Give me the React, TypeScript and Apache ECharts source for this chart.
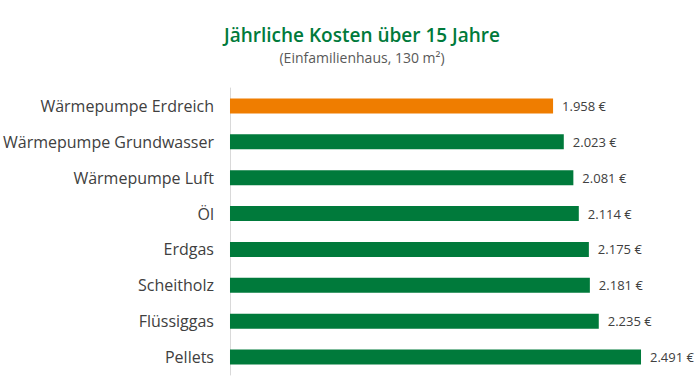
import React, { useEffect, useRef } from "react";
import * as echarts from "echarts";

const categories = [
  "Wärmepumpe Erdreich",
  "Wärmepumpe Grundwasser",
  "Wärmepumpe Luft",
  "Öl",
  "Erdgas",
  "Scheitholz",
  "Flüssiggas",
  "Pellets",
];
const values = [1958, 2023, 2081, 2114, 2175, 2181, 2235, 2491];
const highlight = [true, false, false, false, false, false, false, false];

const GREEN = "#007a3b";
const ORANGE = "#ef7d00";

const fmt = (v: number) => {
  const s = String(v);
  return s.length > 3 ? s.slice(0, s.length - 3) + "." + s.slice(-3) + " €" : s + " €";
};

export default function App() {
  const ref = useRef<HTMLDivElement>(null);
  useEffect(() => {
    document.body.style.margin = "0";
    const chart = echarts.init(ref.current!, undefined, { renderer: "svg" });
    chart.setOption({
      animation: false,
      backgroundColor: "#ffffff",
      textStyle: { fontFamily: "Open Sans" },
      title: {
        text: "Jährliche Kosten über 15 Jahre",
        subtext: "(Einfamilienhaus, 130 m²)",
        left: 357,
        textAlign: "center",
        top: 20,
        itemGap: 6,
        textStyle: { color: GREEN, fontSize: 19, fontWeight: 600, fontFamily: "Open Sans" },
        subtextStyle: { color: "#595959", fontSize: 14, fontFamily: "Open Sans" },
      },
      grid: { left: 229, right: 8, top: 88, bottom: 14, containLabel: false },
      xAxis: {
        type: "value",
        min: 0,
        max: 2800,
        show: false,
      },
      yAxis: {
        type: "category",
        data: categories,
        inverse: true,
        axisLine: { show: true, lineStyle: { color: "#d9d9d9", width: 1 } },
        axisTick: { show: false },
        axisLabel: { color: "#404040", fontSize: 16, margin: 16, fontFamily: "Open Sans" },
      },
      series: [
        {
          type: "bar",
          barWidth: 15,
          data: values.map((v, i) => ({
            value: v,
            itemStyle: { color: highlight[i] ? ORANGE : GREEN },
          })),
          label: {
            show: true,
            position: "right",
            distance: 9,
            color: "#404040",
            fontSize: 13,
            formatter: (p: any) => fmt(p.value),
          },
        },
      ],
    });
    return () => chart.dispose();
  }, []);
  return <div ref={ref} style={{ width: 700, height: 389 }} />;
}
